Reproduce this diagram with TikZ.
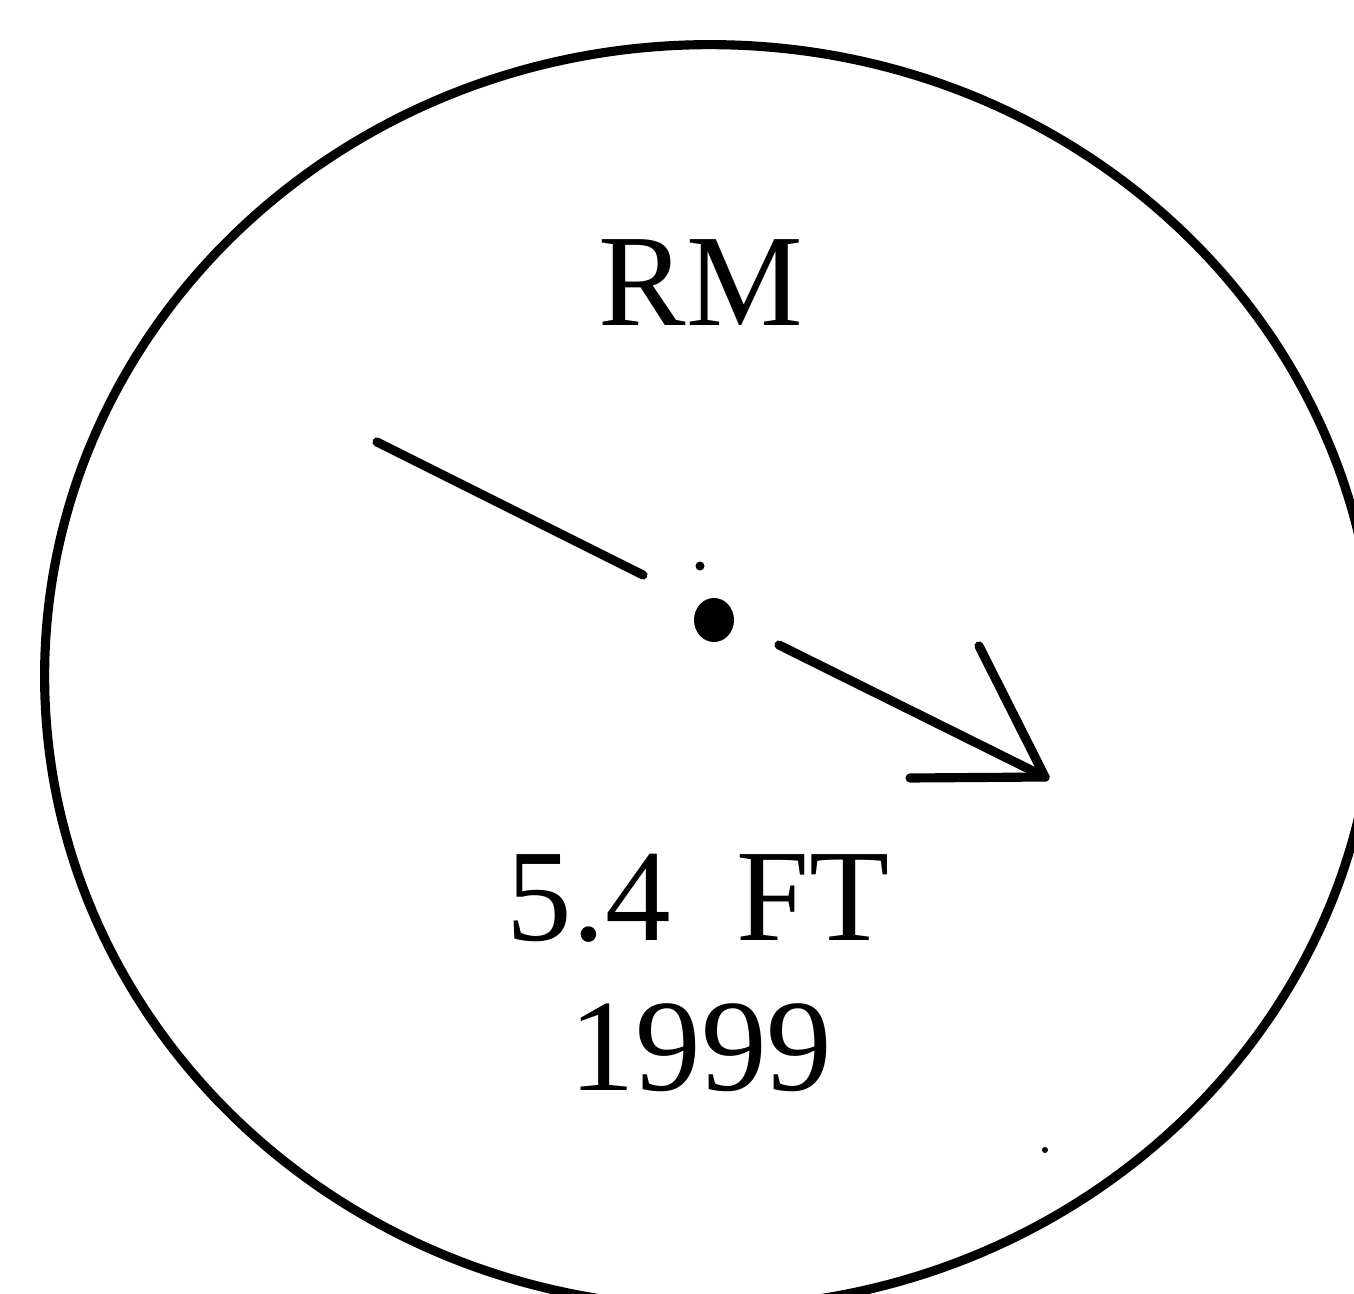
\documentclass[tikz,border=0pt]{standalone}
\usepackage{fontspec}
\setmainfont{Liberation Serif}
\tikzset{
  ink/.style={draw=black, line width=2.6pt, line cap=round, line join=round},
  lbl/.style={anchor=base, inner sep=0pt, font=\fontsize{37.3}{43}\selectfont}
}
\begin{document}
\begin{tikzpicture}[x=0.01cm, y=-0.01cm]
\useasboundingbox (0,0) rectangle (1354,1294);
\fill[white] (0,0) rectangle (1354,1294);
\begin{scope}
\clip (0,0) rectangle (1354,1294);
\draw[ink] (710,676) ellipse [x radius=6.65cm, y radius=6.31cm];
\end{scope}
% labels
\node[lbl] (rm) at (701,325) {RM};
\node[lbl] (ft) at (698,940) {5.4\ \ FT};
\node[lbl] (yr) at (701,1090) {1999};
% arrow
\coordinate (a1) at (377,442);
\coordinate (a2) at (643,575);
\coordinate (b1) at (779,645);
\coordinate (tip) at (1045,777);
\coordinate (h1) at (979,646);
\coordinate (h2) at (910,778);
\draw[ink] (a1) -- (a2);
\draw[ink] (b1) -- (tip);
\draw[ink] (h1) -- (tip) -- (h2);
% centre dot and specks
\fill[black] (714,620) ellipse [x radius=0.2cm, y radius=0.22cm];
\fill[black] (700,566) circle [radius=0.045cm];
\fill[black] (1045,1150) circle [radius=0.03cm];
\end{tikzpicture}
\end{document}
